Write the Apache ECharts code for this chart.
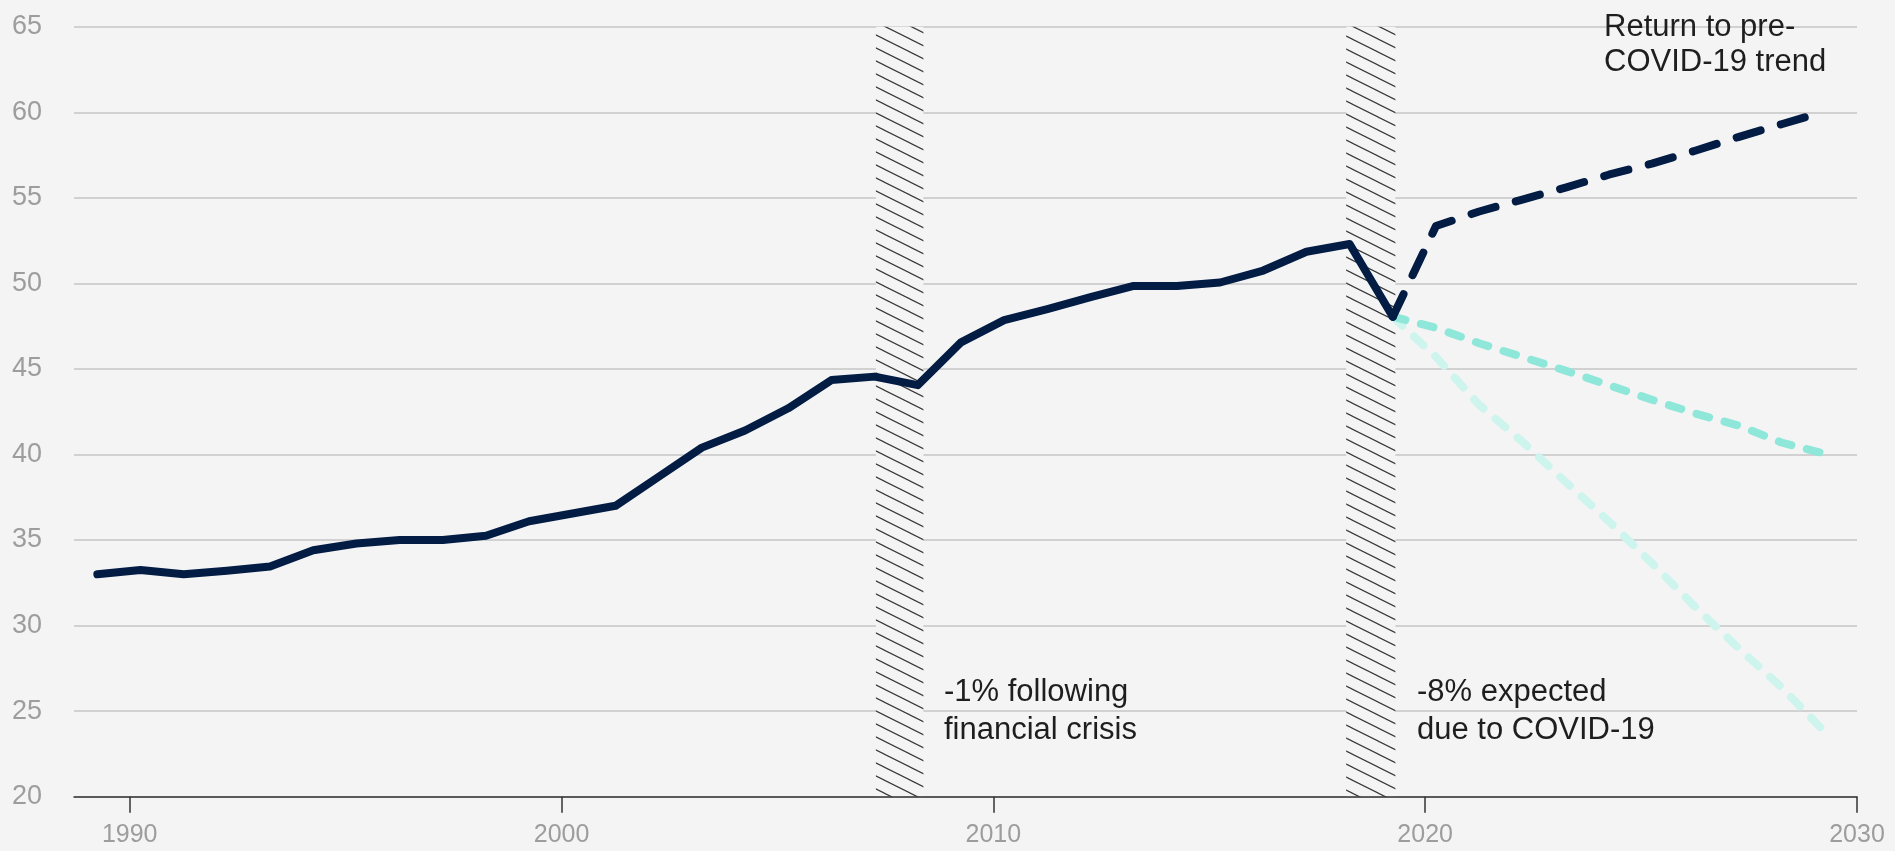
<!DOCTYPE html>
<html>
<head>
<meta charset="utf-8">
<title>Trend chart</title>
<script src="https://cdn.jsdelivr.net/npm/echarts@6/dist/echarts.min.js"></script>
<style>
  html, body { margin: 0; padding: 0; background: #f4f4f4; }
  #chart { width: 1895px; height: 851px; }
</style>
</head>
<body>
<div id="chart"></div>
<script>
  // historic series, points sit a quarter past each year label
  const years = [1989.25, 1990.25, 1991.25, 1992.25, 1993.25, 1994.25, 1995.25, 1996.25,
    1997.25, 1998.25, 1999.25, 2000.25, 2001.25, 2002.25, 2003.25, 2004.25, 2005.25,
    2006.25, 2007.25, 2008.25, 2009.25, 2010.25, 2011.25, 2012.25, 2013.25, 2014.25,
    2015.25, 2016.25, 2017.25, 2018.25, 2019.25]
  const actual = [33.0, 33.25, 33.0, 33.2, 33.45, 34.4, 34.8, 35.0, 35.0, 35.25, 36.1,
    36.55, 37.0, 38.7, 40.4, 41.4, 42.7, 44.35, 44.55, 44.05, 46.55, 47.85, 48.5, 49.2,
    49.85, 49.85, 50.05, 50.75, 51.85, 52.3, 48.05]

  // scenarios from 2019 on
  const projYears = [2019.25, 2020.25, 2021.25, 2022.25, 2023.25, 2024.25, 2025.25,
    2026.25, 2027.25, 2028.25, 2029.25]
  const preCovidTrend = [48.05, 53.35, 54.2, 54.9, 55.6, 56.35, 57.0, 57.75, 58.55, 59.3, 60.05]
  const midCase = [48.05, 47.4, 46.5, 45.7, 44.9, 44.05, 43.2, 42.4, 41.7, 40.7, 40.05]
  const lowCase = [48.05, 45.7, 42.9, 40.75, 38.4, 36.1, 33.65, 31.1, 28.7, 26.4, 23.8]

  // hatched crisis bands (x range in years)
  const bands = [[2007.28, 2008.38], [2018.17, 2019.31]]
  const tickYears = [1990, 2000, 2010, 2020, 2030]

  const font = '"Liberation Sans", Arial, Helvetica, sans-serif'
  const navy = '#031c44'
  const teal = '#8ee7d9'
  const lightTeal = '#cdf4ed'

  function zip(xs, ys) {
    return xs.map((x, i) => [x, ys[i]])
  }

  function hatch() {
    var c = document.createElement('canvas')
    c.width = 26
    c.height = 13
    var g = c.getContext('2d')
    g.fillStyle = '#f4f4f4'
    g.fillRect(0, 0, 26, 13)
    g.strokeStyle = '#383838'
    g.lineWidth = 1.2
    ;[-13, 0, 13].forEach(function (off) {
      g.beginPath()
      g.moveTo(-2, off - 1)
      g.lineTo(28, off + 14)
      g.stroke()
    })
    return c
  }

  function dashed(name, ys, color, dash, z) {
    return {
      name: name,
      type: 'line',
      data: zip(projYears, ys),
      showSymbol: false,
      z: z,
      lineStyle: { color: color, width: 8, type: dash, cap: 'round', join: 'round' }
    }
  }

  const chart = echarts.init(document.getElementById('chart'))
  chart.setOption({
    backgroundColor: '#f4f4f4',
    animation: false,
    grid: { left: 74, right: 38, top: 26.7, bottom: 54.3, containLabel: false, outerBoundsMode: 'none' },
    xAxis: {
      type: 'value',
      min: 1988.71,
      max: 2030,
      z: 10,
      splitLine: { show: false },
      axisLine: { onZero: false, lineStyle: { color: '#333', width: 1.5 } },
      axisTick: { length: 16, customValues: tickYears, lineStyle: { color: '#333', width: 1.5 } },
      axisLabel: {
        customValues: tickYears,
        color: '#9d9d9d',
        fontSize: 25,
        fontFamily: font,
        margin: 26,
        formatter: function (v) { return v % 10 === 0 ? String(v) : '' }
      }
    },
    yAxis: {
      type: 'value',
      min: 20,
      max: 65,
      interval: 5,
      axisLine: { show: false },
      axisTick: { show: false },
      axisLabel: { color: '#9d9d9d', fontSize: 27, fontFamily: font, margin: 32 },
      splitLine: { lineStyle: { color: '#c6c6c6', width: 1.5 } }
    },
    series: [
      {
        name: 'bands',
        type: 'line',
        data: [],
        z: 1,
        markArea: {
          silent: true,
          itemStyle: { color: { image: hatch(), repeat: 'repeat' }, opacity: 1 },
          data: bands.map(b => [{ xAxis: b[0], yAxis: 20 }, { xAxis: b[1], yAxis: 65 }])
        }
      },
      dashed('low', lowCase, lightTeal, [13, 16], 3),
      dashed('mid', midCase, teal, [13, 16], 4),
      dashed('pre-COVID trend', preCovidTrend, navy, [25, 21], 5),
      {
        name: 'actual',
        type: 'line',
        data: zip(years, actual),
        showSymbol: false,
        z: 6,
        lineStyle: { color: navy, width: 8, cap: 'round', join: 'round' }
      }
    ],
    graphic: [
      {
        type: 'text', left: 1604, top: 10, z: 20,
        style: { text: 'Return to pre-\nCOVID-19 trend', font: '31px ' + font, fill: '#1e1e1e', lineHeight: 35 }
      },
      {
        type: 'text', left: 944, top: 674, z: 20,
        style: { text: '-1% following\nfinancial crisis', font: '31px ' + font, fill: '#1e1e1e', lineHeight: 37.5 }
      },
      {
        type: 'text', left: 1417, top: 674, z: 20,
        style: { text: '-8% expected\ndue to COVID-19', font: '31px ' + font, fill: '#1e1e1e', lineHeight: 37.5 }
      }
    ]
  })
</script>
</body>
</html>
